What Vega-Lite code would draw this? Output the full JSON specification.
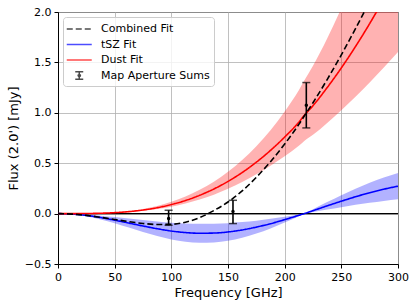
{
  "$schema": "https://vega.github.io/schema/vega-lite/v6.json",
  "width": 340,
  "height": 252,
  "autosize": {"type": "none"},
  "padding": {"left": 58, "top": 12, "right": 17, "bottom": 41},
  "background": "white",
  "datasets": {
    "curves": [
      {"nu": 0, "tsz": 0, "tsz_a": 0, "tsz_b": 0, "dust": 0, "dust_hi": 0, "dust_lo": 0, "comb": 0},
      {"nu": 12.5, "tsz": -0.005, "tsz_a": -0.0074, "tsz_b": -0.0026, "dust": 0.0001, "dust_hi": 0.00013, "dust_lo": 0.00008, "comb": -0.005},
      {"nu": 25, "tsz": -0.018, "tsz_a": -0.0266, "tsz_b": -0.0094, "dust": 0.0009, "dust_hi": 0.0012, "dust_lo": 0.0007, "comb": -0.018},
      {"nu": 37.5, "tsz": -0.039, "tsz_a": -0.0577, "tsz_b": -0.0203, "dust": 0.0036, "dust_hi": 0.0047, "dust_lo": 0.0028, "comb": -0.037},
      {"nu": 50, "tsz": -0.065, "tsz_a": -0.0962, "tsz_b": -0.0338, "dust": 0.0094, "dust_hi": 0.0122, "dust_lo": 0.0072, "comb": -0.058},
      {"nu": 62.5, "tsz": -0.094, "tsz_a": -0.1391, "tsz_b": -0.0489, "dust": 0.0196, "dust_hi": 0.0255, "dust_lo": 0.0151, "comb": -0.080},
      {"nu": 75, "tsz": -0.123, "tsz_a": -0.182, "tsz_b": -0.064, "dust": 0.0355, "dust_hi": 0.0462, "dust_lo": 0.0273, "comb": -0.098},
      {"nu": 87.5, "tsz": -0.150, "tsz_a": -0.222, "tsz_b": -0.078, "dust": 0.0584, "dust_hi": 0.0759, "dust_lo": 0.0449, "comb": -0.108},
      {"nu": 100, "tsz": -0.173, "tsz_a": -0.256, "tsz_b": -0.090, "dust": 0.0896, "dust_hi": 0.1165, "dust_lo": 0.0689, "comb": -0.106},
      {"nu": 112.5, "tsz": -0.188, "tsz_a": -0.2782, "tsz_b": -0.0978, "dust": 0.1302, "dust_hi": 0.1693, "dust_lo": 0.1002, "comb": -0.085},
      {"nu": 125, "tsz": -0.195, "tsz_a": -0.2886, "tsz_b": -0.1014, "dust": 0.1814, "dust_hi": 0.2358, "dust_lo": 0.1395, "comb": -0.040},
      {"nu": 137.5, "tsz": -0.193, "tsz_a": -0.2856, "tsz_b": -0.1004, "dust": 0.2440, "dust_hi": 0.3172, "dust_lo": 0.1877, "comb": 0.030},
      {"nu": 150, "tsz": -0.182, "tsz_a": -0.2694, "tsz_b": -0.0946, "dust": 0.3193, "dust_hi": 0.4151, "dust_lo": 0.2456, "comb": 0.115},
      {"nu": 162.5, "tsz": -0.162, "tsz_a": -0.2398, "tsz_b": -0.0842, "dust": 0.4076, "dust_hi": 0.5319, "dust_lo": 0.3123, "comb": 0.225},
      {"nu": 175, "tsz": -0.134, "tsz_a": -0.1983, "tsz_b": -0.0697, "dust": 0.5100, "dust_hi": 0.6681, "dust_lo": 0.3893, "comb": 0.360},
      {"nu": 187.5, "tsz": -0.100, "tsz_a": -0.148, "tsz_b": -0.052, "dust": 0.6271, "dust_hi": 0.8278, "dust_lo": 0.4751, "comb": 0.515},
      {"nu": 200, "tsz": -0.060, "tsz_a": -0.0888, "tsz_b": -0.0312, "dust": 0.7594, "dust_hi": 1.0138, "dust_lo": 0.5688, "comb": 0.690},
      {"nu": 212.5, "tsz": -0.017, "tsz_a": -0.0252, "tsz_b": -0.0088, "dust": 0.9070, "dust_hi": 1.2245, "dust_lo": 0.6719, "comb": 0.885},
      {"nu": 217.3, "tsz": 0, "tsz_a": 0, "tsz_b": 0, "dust": 0.975, "dust_hi": 1.320, "dust_lo": 0.720, "comb": 0.968},
      {"nu": 225, "tsz": 0.029, "tsz_a": 0.0429, "tsz_b": 0.0151, "dust": 1.0705, "dust_hi": 1.4666, "dust_lo": 0.7814, "comb": 1.100},
      {"nu": 237.5, "tsz": 0.077, "tsz_a": 0.114, "tsz_b": 0.040, "dust": 1.2500, "dust_hi": 1.7375, "dust_lo": 0.8993, "comb": 1.330},
      {"nu": 250, "tsz": 0.123, "tsz_a": 0.182, "tsz_b": 0.064, "dust": 1.4454, "dust_hi": 2.038, "dust_lo": 1.0251, "comb": 1.575},
      {"nu": 262.5, "tsz": 0.167, "tsz_a": 0.2472, "tsz_b": 0.0868, "dust": 1.6573, "dust_hi": 2.3699, "dust_lo": 1.159, "comb": 1.835},
      {"nu": 275, "tsz": 0.207, "tsz_a": 0.3064, "tsz_b": 0.1076, "dust": 1.8851, "dust_hi": 2.7334, "dust_lo": 1.3001, "comb": 2.105},
      {"nu": 287.5, "tsz": 0.242, "tsz_a": 0.3582, "tsz_b": 0.1258, "dust": 2.1293, "dust_hi": 3.1301, "dust_lo": 1.4485, "comb": 2.385},
      {"nu": 300, "tsz": 0.272, "tsz_a": 0.4026, "tsz_b": 0.1414, "dust": 2.3884, "dust_hi": 3.5587, "dust_lo": 1.6029, "comb": 2.675}
    ],
    "pts": [
      {"nu": 97.6, "flux": -0.048, "lo": -0.116, "hi": 0.033},
      {"nu": 154.4, "flux": 0.022, "lo": -0.099, "hi": 0.132},
      {"nu": 219.1, "flux": 1.074, "lo": 0.85, "hi": 1.30}
    ]
  },
  "config": {
    "font": "DejaVu Sans",
    "view": {"stroke": "black", "strokeWidth": 1},
    "axis": {
      "domainColor": "black", "domainWidth": 1,
      "tickColor": "black", "tickSize": 4, "tickWidth": 1,
      "labelFontSize": 11, "labelColor": "black", "labelPadding": 3,
      "labelFlush": false, "labelOverlap": false,
      "titleFontSize": 13, "titleFontWeight": "normal", "titleColor": "black", "titlePadding": 4,
      "grid": true, "gridColor": "#b0b0b0", "gridWidth": 0.8
    },
    "legend": {
      "orient": "top-left", "offset": 5,
      "labelFontSize": 11, "labelColor": "black", "labelLimit": 0,
      "symbolSize": 225, "symbolStrokeWidth": 1.5,
      "padding": 3.5, "rowPadding": 1.5, "labelOffset": 17.5,
      "fillColor": "rgba(255,255,255,0.8)", "strokeColor": "#cccccc", "cornerRadius": 3
    }
  },
  "encoding": {
    "x": {"field": "nu", "type": "quantitative", "title": "Frequency [GHz]",
          "scale": {"domain": [0, 300], "nice": false},
          "axis": {"values": [0, 50, 100, 150, 200, 250, 300]}}
  },
  "layer": [
    {
      "data": {"name": "curves"},
      "mark": {"type": "area", "color": "red", "opacity": 0.3, "interpolate": "monotone", "clip": true},
      "encoding": {
        "y": {"field": "dust_lo", "type": "quantitative", "title": "Flux (2.0') [mJy]",
              "scale": {"domain": [-0.5, 2], "nice": false, "zero": false},
              "axis": {"values": [-0.5, 0, 0.5, 1, 1.5, 2], "format": ".1f"}},
        "y2": {"field": "dust_hi"}
      }
    },
    {
      "data": {"name": "curves"},
      "mark": {"type": "area", "color": "blue", "opacity": 0.3, "interpolate": "monotone", "clip": true},
      "encoding": {
        "y": {"field": "tsz_a", "type": "quantitative", "title": "Flux (2.0') [mJy]",
              "scale": {"domain": [-0.5, 2], "nice": false, "zero": false},
              "axis": {"values": [-0.5, 0, 0.5, 1, 1.5, 2], "format": ".1f"}},
        "y2": {"field": "tsz_b"}
      }
    },
    {
      "data": {"name": "curves"},
      "mark": {"type": "line", "color": "black", "strokeWidth": 1.1},
      "encoding": {
        "y": {"datum": 0, "type": "quantitative", "title": "Flux (2.0') [mJy]",
              "scale": {"domain": [-0.5, 2], "nice": false, "zero": false},
              "axis": {"values": [-0.5, 0, 0.5, 1, 1.5, 2], "format": ".1f"}}
      }
    },
    {
      "data": {"name": "curves"},
      "mark": {"type": "line", "strokeWidth": 1.6, "interpolate": "monotone", "clip": true},
      "encoding": {
        "y": {"field": "tsz", "type": "quantitative", "title": "Flux (2.0') [mJy]",
              "scale": {"domain": [-0.5, 2], "nice": false, "zero": false},
              "axis": {"values": [-0.5, 0, 0.5, 1, 1.5, 2], "format": ".1f"}},
        "color": {"datum": "tSZ Fit", "type": "nominal",
                  "scale": {"domain": ["Combined Fit", "tSZ Fit", "Dust Fit", "Map Aperture Sums"], "range": ["black", "blue", "red", "black"]},
                  "legend": {"title": null}},
        "strokeDash": {"datum": "tSZ Fit", "type": "nominal",
                  "scale": {"domain": ["Combined Fit", "tSZ Fit", "Dust Fit", "Map Aperture Sums"], "range": [[6, 3], [1, 0], [1, 0], [1, 0]]},
                  "legend": {"title": null}}
      }
    },
    {
      "data": {"name": "curves"},
      "mark": {"type": "line", "strokeWidth": 1.6, "interpolate": "monotone", "clip": true},
      "encoding": {
        "y": {"field": "dust", "type": "quantitative", "title": "Flux (2.0') [mJy]",
              "scale": {"domain": [-0.5, 2], "nice": false, "zero": false},
              "axis": {"values": [-0.5, 0, 0.5, 1, 1.5, 2], "format": ".1f"}},
        "color": {"datum": "Dust Fit", "type": "nominal"},
        "strokeDash": {"datum": "Dust Fit", "type": "nominal"}
      }
    },
    {
      "data": {"name": "curves"},
      "mark": {"type": "line", "strokeWidth": 1.6, "interpolate": "monotone", "clip": true},
      "encoding": {
        "y": {"field": "comb", "type": "quantitative", "title": "Flux (2.0') [mJy]",
              "scale": {"domain": [-0.5, 2], "nice": false, "zero": false},
              "axis": {"values": [-0.5, 0, 0.5, 1, 1.5, 2], "format": ".1f"}},
        "color": {"datum": "Combined Fit", "type": "nominal"},
        "strokeDash": {"datum": "Combined Fit", "type": "nominal"}
      }
    },
    {
      "data": {"name": "pts"},
      "mark": {"type": "rule", "color": "black", "strokeWidth": 1.6},
      "encoding": {
        "y": {"field": "lo", "type": "quantitative", "title": "Flux (2.0') [mJy]",
              "scale": {"domain": [-0.5, 2], "nice": false, "zero": false},
              "axis": {"values": [-0.5, 0, 0.5, 1, 1.5, 2], "format": ".1f"}},
        "y2": {"field": "hi"}
      }
    },
    {
      "data": {"name": "pts"},
      "mark": {"type": "tick", "orient": "horizontal", "color": "black", "size": 8, "thickness": 1.5},
      "encoding": {
        "y": {"field": "lo", "type": "quantitative", "title": "Flux (2.0') [mJy]",
              "scale": {"domain": [-0.5, 2], "nice": false, "zero": false},
              "axis": {"values": [-0.5, 0, 0.5, 1, 1.5, 2], "format": ".1f"}}
      }
    },
    {
      "data": {"name": "pts"},
      "mark": {"type": "tick", "orient": "horizontal", "color": "black", "size": 8, "thickness": 1.5},
      "encoding": {
        "y": {"field": "hi", "type": "quantitative", "title": "Flux (2.0') [mJy]",
              "scale": {"domain": [-0.5, 2], "nice": false, "zero": false},
              "axis": {"values": [-0.5, 0, 0.5, 1, 1.5, 2], "format": ".1f"}}
      }
    },
    {
      "data": {"name": "pts"},
      "mark": {"type": "circle", "color": "black", "size": 12, "opacity": 1},
      "encoding": {
        "y": {"field": "flux", "type": "quantitative", "title": "Flux (2.0') [mJy]",
              "scale": {"domain": [-0.5, 2], "nice": false, "zero": false},
              "axis": {"values": [-0.5, 0, 0.5, 1, 1.5, 2], "format": ".1f"}}
      }
    },
    {
      "data": {"name": "pts"},
      "transform": [{"filter": "false"}],
      "mark": {"type": "point", "filled": false, "strokeWidth": 1.5},
      "encoding": {
        "y": {"field": "flux", "type": "quantitative", "title": "Flux (2.0') [mJy]",
              "scale": {"domain": [-0.5, 2], "nice": false, "zero": false},
              "axis": {"values": [-0.5, 0, 0.5, 1, 1.5, 2], "format": ".1f"}},
        "color": {"datum": "Map Aperture Sums", "type": "nominal"},
        "shape": {"datum": "Map Aperture Sums", "type": "nominal",
                  "scale": {"domain": ["Combined Fit", "tSZ Fit", "Dust Fit", "Map Aperture Sums"],
                            "range": ["M-1.1,0H2.233", "M-1.1,0H2.233", "M-1.1,0H2.233",
                                      "M0.567,-0.513V0.513M0.033,-0.513H1.1M0.033,0.513H1.1M0.717,0A0.15,0.15,0,1,1,0.417,0A0.15,0.15,0,1,1,0.717,0"]},
                  "legend": {"title": null}}
      }
    }
  ]
}
